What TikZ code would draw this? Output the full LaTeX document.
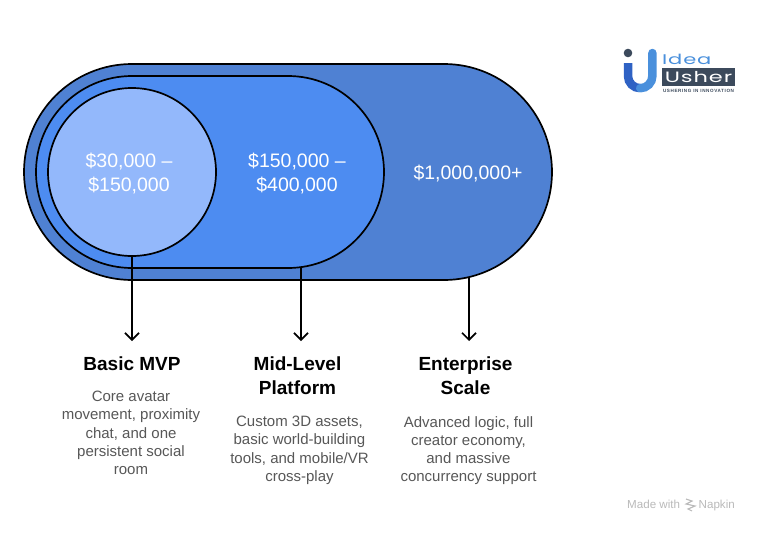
\documentclass[tikz,border=0pt]{standalone}
\usepackage{fontspec}
\usepackage{tikz}
\usetikzlibrary{arrows.meta}
\setmainfont{Liberation Sans}
\newfontfamily\logofont[FakeStretch=1.5,LetterSpace=6]{Poppins}
\newfontfamily\tagfont[LetterSpace=13]{Liberation Sans}
\definecolor{outerblue}{HTML}{4F81D3}
\definecolor{midblue}{HTML}{4D8CF1}
\definecolor{innerblue}{HTML}{93B8FB}
\definecolor{logoblue}{HTML}{4A90DC}
\definecolor{logodeep}{HTML}{2F62C4}
\definecolor{logoslate}{HTML}{3C4A5C}
\definecolor{madegray}{HTML}{B9B9B9}
\tikzset{
  tier/.style={draw=black, line width=1.7pt, inner sep=0pt},
  price/.style={text=white, font=\fontsize{19.5}{24}\selectfont, align=center},
  heading/.style={font=\fontsize{19}{24}\selectfont\bfseries, align=center, anchor=north, inner sep=0pt},
  detail/.style={text=black!66, font=\fontsize{15}{18.2}\selectfont, align=center, anchor=north, inner sep=0pt},
  pointer/.style={->, >={Straight Barb[length=7pt, width=14pt]}, line width=1.7pt},
  madetext/.style={inner sep=0pt, anchor=base west, text=madegray, font=\fontsize{11.6}{12}\selectfont}
}

\begin{document}
\begin{tikzpicture}[x=1pt, y=-1pt]
\useasboundingbox (0,0) rectangle (760,533);

% Nested tiers
\node[tier, fill=outerblue, minimum width=528pt, minimum height=216pt, rounded corners=108pt] (enterprise) at (288,172) {};
\node[tier, fill=midblue, minimum width=348pt, minimum height=192pt, rounded corners=96pt] (midlevel) at (210,172) {};
\node[tier, fill=innerblue, circle, minimum size=168pt] (basic) at (132,172) {};

% Prices
\node[price] (basicprice) at (129,174) {\$30,000 --\\\$150,000};
\node[price] (midprice) at (297,174) {\$150,000 --\\\$400,000};
\node[price] (enterpriseprice) at (468,174) {\$1,000,000+};

% Arrow ends
\coordinate (basictip) at (132,341);
\coordinate (midstart) at (301,267.5);
\coordinate (midtip) at (301,341);
\coordinate (enterprisestart) at (469,277);
\coordinate (enterprisetip) at (469,341);

\draw[pointer] (basic.south) -- (basictip);
\draw[pointer] (midstart) -- (midtip);
\draw[pointer] (enterprisestart) -- (enterprisetip);

% Headings
\node[heading] (basichead) at (132,357) {Basic MVP};
\node[heading] (midhead) at (297.5,357) {Mid-Level\\Platform};
\node[heading] (enterprisehead) at (465.5,357) {Enterprise\\Scale};

% Details
\node[detail] (basictext) at (131,391) {Core avatar\\movement, proximity\\chat, and one\\persistent social\\room};
\node[detail] (midtext) at (299.5,416) {Custom 3D assets,\\basic world-building\\tools, and mobile/VR\\cross-play};
\node[detail] (enterprisetext) at (468.5,416) {Advanced logic, full\\creator economy,\\and massive\\concurrency support};

% Logo
\fill[logoslate] (628,53) circle (4.3pt);
\draw[logodeep, line width=8.5pt] (628,63) -- (628,76) arc[start angle=180, end angle=270, radius=12.2pt];
\draw[logoblue, line width=8.5pt, line cap=round] (652.4,53) -- (652.4,76) arc[start angle=0, end angle=-90, radius=12.2pt];
\node[inner sep=0pt, anchor=west, text=logoblue, font=\logofont\fontsize{14}{14}\selectfont] (logoidea) at (662,59) {Idea};
\node[fill=logoslate, text=white, inner sep=0pt, minimum width=73pt, minimum height=18pt, font=\logofont\fontsize{15}{15}\selectfont] (logousher) at (698.5,77) {Usher};
\node[inner sep=0pt, text=logoslate, font=\tagfont\bfseries\fontsize{4.6}{5}\selectfont] (logotag) at (698.5,90.5) {USHERING IN INNOVATION};

% Made with
\node[madetext] (madewith) at (627,508.5) {Made with};
\draw[madegray, line width=1.1pt] (686,499) -- (692,501) -- (686,504) -- (695,506) -- (688,509) -- (692,511);
\node[madetext] (napkin) at (698.5,508.5) {Napkin};

\end{tikzpicture}
\end{document}
